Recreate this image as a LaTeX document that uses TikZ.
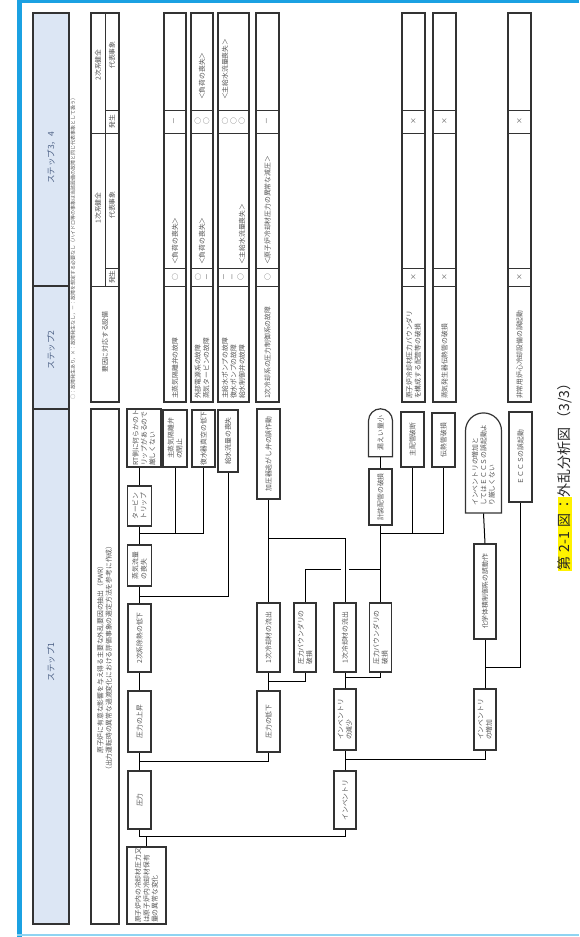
\documentclass[tikz,border=0pt]{standalone}
\usepackage{fontspec}
\newfontfamily\jp{Noto Sans CJK JP}
\usetikzlibrary{positioning,calc,shapes.misc}

\definecolor{frameblue}{HTML}{1BA1E2}
\definecolor{framelight}{HTML}{8FD4F2}
\definecolor{hdrblue}{HTML}{DCE6F4}
\definecolor{hdrtext}{HTML}{4E6286}
\definecolor{linegray}{HTML}{333333}
\definecolor{txtgray}{HTML}{555555}
\definecolor{hilite}{HTML}{FFF200}

\tikzset{
  cause/.style={draw=linegray, line width=1.2pt, rotate=90, inner sep=0pt, align=left,
    font=\jp\fontsize{6.8}{8.4}\selectfont, text=txtgray},
  stopbox/.style={cause, rounded rectangle, rounded rectangle west arc=none},
  sz/.style 2 args={minimum width=#1pt, minimum height=#2pt},
  cell/.style={rotate=90, inner sep=0pt, align=left, font=\jp\fontsize{6.8}{8.4}\selectfont, text=txtgray},
  steplabel/.style={rotate=90, font=\jp\fontsize{8.5}{10}\selectfont, text=hdrtext},
  link/.style={draw=black, line width=1pt},
  grid/.style={draw=linegray, line width=1.1pt},
}

\begin{document}
\begin{tikzpicture}[x=1pt,y=-1pt]
\useasboundingbox (0,0) rectangle (579,937);

% frame
\draw[frameblue, line width=5pt] (19.5,0) -- (19.5,937);
\draw[frameblue, line width=3pt] (17,1.5) -- (579,1.5);
\draw[framelight, line width=1.5pt] (17,935) -- (579,935);

% step headers
\draw[grid, fill=hdrblue] (33,13) rectangle (69,924);
\draw[grid] (33,286) -- (69,286) (33,409) -- (69,409);
\node[steplabel] (st34) at (51,158) {ステップ3，4};
\node[steplabel] (st2) at (51,350) {ステップ2};
\node[steplabel] (st1) at (51,662) {ステップ1};

\node[cell, anchor=west, font=\jp\fontsize{5}{6}\selectfont] (note) at (73,400)
  {○：故障発生あり，×：故障発生なし，－：故障を想定する必要なし（ハイドロ等の事象は当該設備の故障と同じ代表事象として扱う）};

% table head
\draw[grid] (91,13) rectangle (119,402);
\draw[grid, line width=0.8pt] (91,133) -- (119,133) (91,286) -- (119,286)
  (105,13) -- (105,286) (105,110) -- (119,110) (105,268) -- (119,268);
\node[cell] (h2sys) at (98,65) {2次系健全};
\node[cell] (h1sys) at (98,208) {1次系健全};
\node[cell] (h2rep) at (112,55) {代表事象};
\node[cell] (h2occ) at (112,121.5) {発生};
\node[cell] (h1rep) at (112,205) {代表事象};
\node[cell] (h1occ) at (112,277) {発生};
\node[cell] (h2eq) at (105,342) {要因に対応する設備};

\draw[grid] (91,409) rectangle (119,924);
\node[cell, align=center] (h1) at (104.5,658)
  {原子炉に有意な影響を与え得る主要な外乱要因の抽出（PWR）\\（出力運転時の異常な過渡変化における評価事象の選定方法を参考に作成）};

% rows of the table
\foreach \xl/\xr in {164/186,191/213,218/249,256/279,402/425,433/456,508/531}{
  \draw[grid, line width=1.2pt] (\xl,13) rectangle (\xr,402);
  \foreach \yy in {110,133,268,286} \draw[grid, line width=0.8pt] (\xl,\yy) -- (\xr,\yy);
}

\node[cell, anchor=west] (r1eq) at (175,399) {主蒸気隔離弁の故障};
\node[cell] (r1o1) at (175,277) {○};
\node[cell, anchor=west] (r1r1) at (175,265) {＜負荷の喪失＞};
\node[cell] (r1o2) at (175,121.5) {－};

\node[cell, anchor=west] (r2eq) at (202,399) {外部電源系の故障\\蒸気タービンの故障};
\node[cell, align=center] (r2o1) at (202,277) {○\\－};
\node[cell, anchor=west] (r2r1) at (202,265) {＜負荷の喪失＞};
\node[cell, align=center] (r2o2) at (202,121.5) {○\\○};
\node[cell, anchor=west] (r2r2) at (202,100) {＜負荷の喪失＞};

\node[cell, anchor=west] (r3eq) at (233.5,399) {主給水ポンプの故障\\復水ポンプの故障\\給水制御弁の故障};
\node[cell, align=center] (r3o1) at (233.5,277) {－\\－\\○};
\node[cell, anchor=west] (r3r1) at (242,265) {＜主給水流量喪失＞};
\node[cell, align=center] (r3o2) at (233.5,121.5) {○\\○\\○};
\node[cell, anchor=west] (r3r2) at (225,100) {＜主給水流量喪失＞};

\node[cell, anchor=west] (r4eq) at (267.5,399) {1次冷却系の圧力制御系の故障};
\node[cell] (r4o1) at (267.5,277) {○};
\node[cell, anchor=west] (r4r1) at (267.5,265) {＜原子炉冷却材圧力の異常な減圧＞};
\node[cell] (r4o2) at (267.5,121.5) {－};

\node[cell, anchor=west] (r5eq) at (413.5,399) {原子炉冷却材圧力バウンダリ\\を構成する配管等の破損};
\node[cell] (r5o1) at (413.5,277) {×};
\node[cell] (r5o2) at (413.5,121.5) {×};

\node[cell, anchor=west] (r6eq) at (444.5,399) {蒸気発生器伝熱管の破損};
\node[cell] (r6o1) at (444.5,277) {×};
\node[cell] (r6o2) at (444.5,121.5) {×};

\node[cell, anchor=west] (r7eq) at (519.5,399) {非常用炉心冷却設備の誤起動};
\node[cell] (r7o1) at (519.5,277) {×};
\node[cell] (r7o2) at (519.5,121.5) {×};

% step 1 tree
\node[cause, sz={77}{39}] (root) at (146.5,885.5) {原子炉内の冷却材圧力又\\は原子炉内冷却材保有\\量の異常な変化};
\node[cause, sz={58}{23}] (atsu) at (139.5,800) {圧力};
\node[cause, sz={58}{22}] (inv) at (345,800) {インベントリ};
\node[cause, sz={61}{23}] (up) at (139.5,721.5) {圧力の上昇};
\node[cause, sz={61}{23}] (down) at (268.5,721.5) {圧力の低下};
\node[cause, sz={61}{22}] (invDec) at (345,719.5) {インベントリ\\の減少};
\node[cause, sz={61}{22}] (invInc) at (485,719.5) {インベントリ\\の増加};
\node[cause, sz={68}{23}] (heat) at (139.5,638) {2次系除熱の低下};
\node[cause, sz={69}{23}] (outA) at (268.5,637.5) {1次冷却材の流出};
\node[cause, sz={69}{22}] (bdryA) at (305,637.5) {圧力バウンダリの\\破損};
\node[cause, sz={69}{22}] (outB) at (345,637.5) {1次冷却材の流出};
\node[cause, sz={69}{22}] (bdryB) at (380.5,637.5) {圧力バウンダリの\\破損};
\node[cause, sz={95}{22}] (cvcs) at (485,591.5) {化学体積制御系の誤動作};
\node[cause, sz={41}{24}] (steam) at (139.5,565.5) {蒸気流量\\の喪失};
\node[cause, sz={40}{24}] (turb) at (139.5,506) {タービン\\トリップ};
\node[cause, sz={58}{34}] (rt) at (144,438) {RT側に何らかのト\\リップがあるので\\厳しくない};
\node[cause, sz={57}{24}] (msiv) at (175,438.5) {主蒸気隔離弁\\の閉止};
\node[cause, sz={57}{23}] (cond) at (203.5,438.5) {復水器真空の低下};
\node[cause, sz={62}{20}] (feed) at (228,441) {給水流量の喪失};
\node[cause, sz={90}{23}] (prv) at (268.5,454) {加圧器逃がし弁の誤作動};
\node[cause, sz={56}{23}] (leak) at (380.5,497) {計装配管の破損};
\node[stopbox, sz={48}{24}] (small) at (380.5,433) {漏えい量小};
\node[cause, sz={55}{23}] (pipe) at (412.5,439.5) {主配管破断};
\node[cause, sz={54}{23}] (sgtr) at (443.5,440) {伝熱管破損};
\node[stopbox, sz={100}{36}] (noinc) at (483.5,465) {インベントリの増加と\\してはＥＣＣＳの誤起動よ\\り厳しくない};
\node[cause, sz={90}{23}] (eccs) at (520.5,457) {ＥＣＣＳの誤起動};

% connectors
\draw[link] (root.east) -- ++(0,-10) coordinate (jroot);
\draw[link] (atsu.west) |- (jroot);
\draw[link] (inv.west) |- (jroot);
\draw[link] (atsu.east) -- (up.west);
\draw[link] (atsu.east) -- ++(0,-9) -| (down.west);
\draw[link] (inv.east) -- (invDec.west);
\draw[link] (inv.east) -- ++(0,-11) -| (invInc.west);
\draw[link] (up.east) -- (heat.west);
\draw[link] (down.east) -- (outA.west);
\draw[link] (down.east) -- ++(0,-9) -| (bdryA.west);
\draw[link] (invDec.east) -- (outB.west);
\draw[link] (invDec.east) -- ++(0,-11) -| (bdryB.west);
\draw[link] (invInc.east) -- (cvcs.west);
\draw[link] (invInc.east) -- ++(0,-21) -| (eccs.west);
\draw[link] (cvcs.east) -- (noinc.west);
\draw[link] (heat.east) -- (steam.west);
\draw[link] (heat.east) -- ++(0,-7) -| (feed.west);
\draw[link] (steam.east) -- (turb.west);
\draw[link] (steam.east) -- ++(0,-11) coordinate (jsteam) -| (cond.west);
\draw[link] (msiv.west) -- (msiv.west |- jsteam);
\draw[link] (turb.east) -- (turb.east |- rt.west);
\coordinate (jprv) at (268.5,538);
\draw[link] (outA.east) -- (outA.east |- prv.west);
\draw[link] (outB.east) |- (jprv);
\coordinate (jleakA) at (341,569);
\coordinate (jleakB) at (349,569);
\coordinate (jleak) at (380.5,569);
\draw[link] (bdryB.east) -- (leak.west);
\draw[link] (bdryA.east) |- (jleakA);
\draw[link] (jleakB) -- (jleak);
\draw[link] (leak.east) -- (small.west);
\coordinate (jpipe) at (380.5,533);
\draw[link] (jpipe) -| (sgtr.west);
\draw[link] (pipe.west) -- (pipe.west |- jpipe);

% caption
\node[rotate=90, anchor=west, inner sep=0pt, font=\jp\fontsize{14}{16}\selectfont, text=black!85] (cap) at (565,571)
  {{\setlength{\fboxsep}{0.5pt}\colorbox{hilite}{第\hspace{4pt}2-1\hspace{4pt}図\hspace{2pt}：}}外乱分析図\hspace{2pt}（3/3）};
\end{tikzpicture}
\end{document}
